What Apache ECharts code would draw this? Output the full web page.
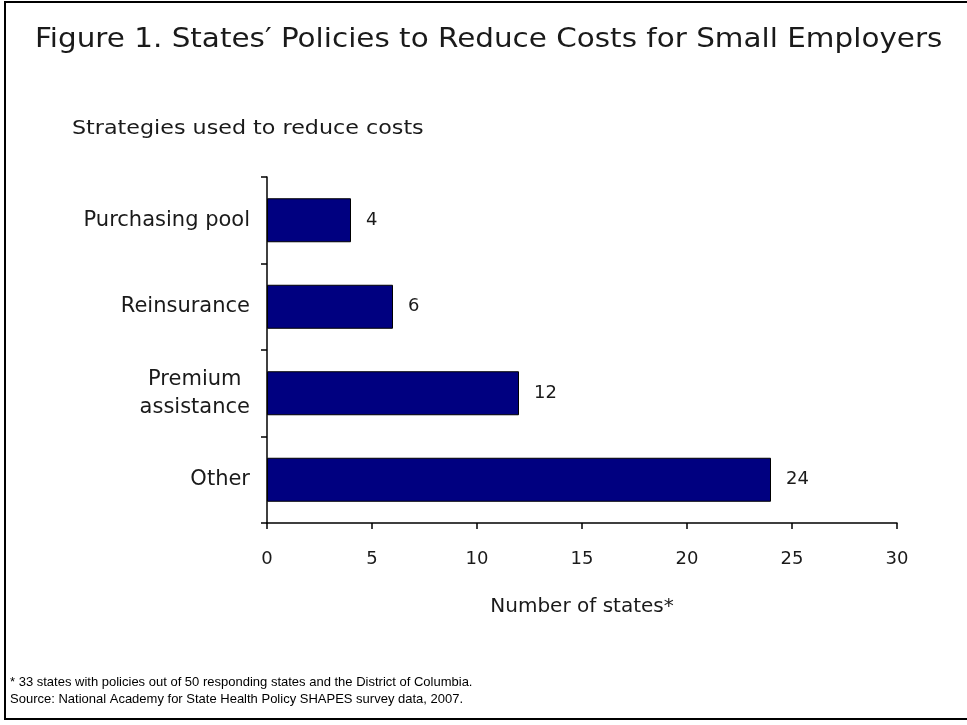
<!DOCTYPE html>
<html>
<head>
<meta charset="utf-8">
<script src="https://cdn.jsdelivr.net/npm/echarts@6/dist/echarts.min.js"></script>
<style>html,body{margin:0;padding:0;background:#fff}#c{width:967px;height:725px}</style>
</head>
<body>
<div id="c"></div>
<script>
const categories = ['Purchasing pool', 'Reinsurance', 'Premium\nassistance', 'Other'];
const values = [4, 6, 12, 24];
const xTicks = { min: 0, max: 30, interval: 5 };
const titleText = "Figure 1. States\u2032 Policies to Reduce Costs for Small Employers";
const subtitleText = 'Strategies used to reduce costs';
const xAxisName = 'Number of states*';
const footnotes = [
  '* 33 states with policies out of 50 responding states and the District of Columbia.',
  'Source: National Academy for State Health Policy SHAPES survey data, 2007.'
];

const FONT = 'DejaVu Sans';
const TXT = '#1a1a1a';
const chart = echarts.init(document.getElementById('c'), null, { renderer: 'canvas' });
chart.setOption({
  backgroundColor: '#fff',
  animation: false,
  graphic: [
    { type: 'rect', shape: { x: 5, y: 2, width: 980, height: 717 }, style: { fill: 'none', stroke: '#000', lineWidth: 2 }, silent: true },
    { type: 'text', x: 35, y: 40, scaleX: 1.09, style: { text: titleText, font: '27px "DejaVu Sans"', fill: TXT, verticalAlign: 'middle' } },
    { type: 'text', x: 72, y: 129, scaleX: 1.17, style: { text: subtitleText, font: '19px "DejaVu Sans"', fill: TXT, verticalAlign: 'middle' } },
    { type: 'text', x: 10, y: 674, style: { text: footnotes.join('\n'), font: '13px "Liberation Sans", Arial, sans-serif', fill: '#000', lineHeight: 17 } }
  ],
  grid: { left: 267, right: 70, top: 177, bottom: 202, containLabel: false },
  xAxis: {
    type: 'value', min: xTicks.min, max: xTicks.max, interval: xTicks.interval,
    name: xAxisName, nameLocation: 'middle', nameGap: 74,
    nameTextStyle: { fontFamily: FONT, fontSize: 20, color: TXT },
    axisLine: { show: true, lineStyle: { color: '#000', width: 1.5 } },
    axisTick: { show: true, length: 6, lineStyle: { color: '#000', width: 1.5 } },
    axisLabel: { margin: 27, fontFamily: FONT, fontSize: 18, color: TXT },
    splitLine: { show: false }
  },
  yAxis: {
    type: 'category', data: categories, inverse: true,
    axisLine: { show: true, lineStyle: { color: '#000', width: 1.5 } },
    axisTick: { show: true, length: 6, lineStyle: { color: '#000', width: 1.5 } },
    axisLabel: {
      margin: 17, fontFamily: FONT, fontSize: 21, color: TXT, lineHeight: 28,
      formatter: v => v.split('\n').map(s => '{c|' + s + '}').join('\n'),
      rich: { c: { align: 'center', fontFamily: FONT, fontSize: 21, color: TXT, lineHeight: 28 } }
    }
  },
  series: [{
    type: 'bar', data: values, barWidth: 44,
    itemStyle: { color: '#000080', borderColor: '#000', borderWidth: 1 },
    label: { show: true, position: 'right', distance: 15, fontFamily: FONT, fontSize: 18, color: TXT }
  }]
});
</script>
</body>
</html>
